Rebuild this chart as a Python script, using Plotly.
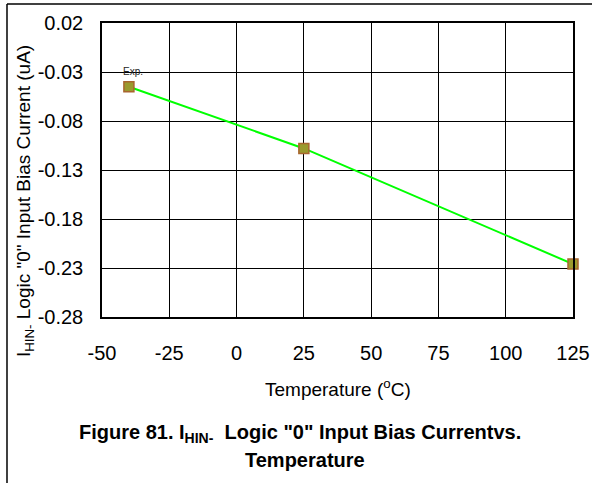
import plotly.graph_objects as go

temps = [-40, 25, 125]
current = [-0.045, -0.108, -0.226]
x_ticks = [-50, -25, 0, 25, 50, 75, 100, 125]
x_tick_text = ["-50", "-25", "0", "25", "50", "75", "100", "125"]
y_ticks = [0.02, -0.03, -0.08, -0.13, -0.18, -0.23, -0.28]
y_tick_text = ["0.02", "-0.03", "-0.08", "-0.13", "-0.18", "-0.23", "-0.28"]

FONT = "Liberation Sans, Arial, sans-serif"

fig = go.Figure()
fig.add_trace(go.Scatter(
    x=temps, y=current, mode="lines+markers",
    line=dict(color="#00ff00", width=2),
    marker=dict(symbol="square", size=10, color="#9a9a2e",
                line=dict(color="#a8652e", width=1.5)),
    showlegend=False, cliponaxis=False,
))

fig.add_annotation(x=temps[0], y=current[0], text="Exp.", showarrow=False,
                   yshift=15, xshift=4, font=dict(family=FONT, size=10, color="#222"))

fig.update_xaxes(range=[-50, 125], tickvals=x_ticks, ticktext=x_tick_text,
                 showgrid=True, gridcolor="black", automargin=False,
                 gridwidth=1, zeroline=False, showline=True, linecolor="black", linewidth=1.5,
                 mirror=True, ticks="", ticklabelstandoff=17,
                 tickfont=dict(family=FONT, size=20, color="black"))
fig.update_yaxes(range=[-0.28, 0.02], tickvals=y_ticks, ticktext=y_tick_text,
                 showgrid=True, gridcolor="black", gridwidth=1, zeroline=False,
                 showline=True, linecolor="black", linewidth=1.5, mirror=True,
                 ticks="", ticklabelstandoff=13, automargin=False,
                 tickfont=dict(family=FONT, size=20, color="black"))

# x-axis title
fig.add_annotation(xref="paper", yref="paper", x=0.501, y=-0.241, xanchor="center",
                   yanchor="middle", showarrow=False, text="Temperature (<sup>o</sup>C)",
                   font=dict(family=FONT, size=19, color="black"))

# y-axis title
fig.add_annotation(xref="paper", yref="paper", x=-0.163, y=0.395, textangle=-90,
                   text='I<sub>HIN-</sub> Logic "0" Input Bias Current (uA)', showarrow=False,
                   xanchor="center", yanchor="middle",
                   font=dict(family=FONT, size=19, color="black"))

# caption
fig.add_annotation(xref="paper", yref="paper", x=0.42, y=-0.395, xanchor="center",
                   yanchor="middle", showarrow=False,
                   text='<b>Figure 81. I<sub>HIN-</sub>  Logic "0" Input Bias Currentvs.</b>',
                   font=dict(family=FONT, size=20, color="black"))
fig.add_annotation(xref="paper", yref="paper", x=0.431, y=-0.486, xanchor="center",
                   yanchor="middle", showarrow=False, text="<b>Temperature</b>",
                   font=dict(family=FONT, size=20, color="black"))

# outer frame (left and top edges)
fig.add_shape(type="line", xref="paper", yref="paper", x0=-0.2017, x1=1.05, y0=1.0646, y1=1.0646,
              line=dict(color="black", width=1.5))
fig.add_shape(type="line", xref="paper", yref="paper", x0=-0.2017, x1=-0.2017, y0=1.0646, y1=-0.6,
              line=dict(color="black", width=1.5))

fig.update_layout(width=592, height=483, margin=dict(l=102, r=19, t=23, b=166, autoexpand=False),
                  plot_bgcolor="white", paper_bgcolor="white")

fig.write_html("out.html", config={"displayModeBar": False},
               post_script="document.body.style.margin='0';document.body.style.overflow='hidden';")
